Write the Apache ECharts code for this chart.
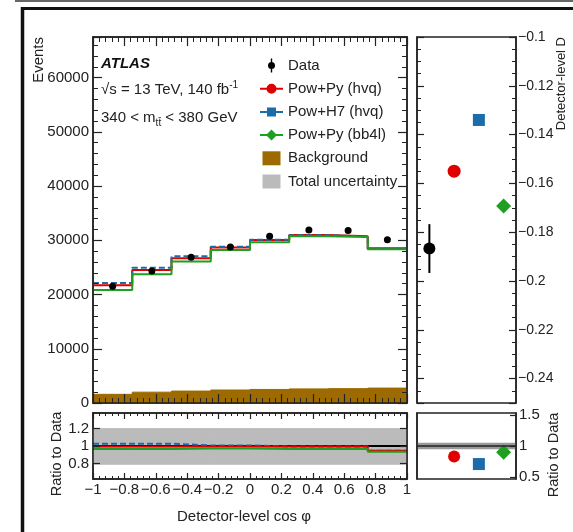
<!DOCTYPE html>
<html>
<head>
<meta charset="utf-8">
<script src="https://cdn.jsdelivr.net/npm/echarts@6/dist/echarts.min.js"></script>
<style>
  html, body { margin: 0; padding: 0; background: #fff; }
  #chart { width: 573px; height: 532px; }
</style>
</head>
<body>
<div id="chart"></div>
<script>
// binning in detector-level cos phi
const binEdges = [-1, -0.75, -0.5, -0.25, 0, 0.25, 0.5, 0.75, 1]
const binCenters = [-0.875, -0.625, -0.375, -0.125, 0.125, 0.375, 0.625, 0.875]

// events per bin
const dataEvents = [21550, 24350, 26900, 28750, 30750, 31900, 31800, 30100]
const powPyHvq = [21700, 24550, 26700, 28700, 30050, 31000, 30750, 28550]
const powH7Hvq = [22150, 24950, 27050, 28800, 30100, 30950, 30700, 28450]
const powPyBb4l = [20850, 23750, 26100, 28200, 29650, 30750, 30600, 28350]
const background = [1600, 2000, 2200, 2400, 2500, 2600, 2650, 2750]

// ratio to data
const ratioData = [1, 1, 1, 1, 1, 1, 1, 1]
const ratioPowPyHvq = [0.995, 0.995, 0.995, 0.995, 0.993, 0.993, 0.993, 0.945]
const ratioPowH7Hvq = [1.027, 1.027, 1.006, 1.006, 0.994, 0.994, 0.994, 0.945]
const ratioPowPyBb4l = [0.966, 0.966, 0.972, 0.972, 0.966, 0.966, 0.966, 0.935]
const uncLow = [0.79, 0.79, 0.79, 0.79, 0.79, 0.79, 0.79, 0.79]
const uncHigh = [1.2, 1.2, 1.2, 1.2, 1.2, 1.2, 1.2, 1.2]

// detector-level D
const dCategories = ['Data', 'Pow+Py (hvq)', 'Pow+H7 (hvq)', 'Pow+Py (bb4l)']
const dValues = [-0.1867, -0.155, -0.134, -0.1693]
const dDataErr = [-0.1967, -0.1767]
const dRatio = [1, 0.83, 0.71, 0.9]
const dDataUnc = [0.947, 1.053]

const FONT = '"Liberation Sans", Arial, sans-serif'
const INK = '#222'
const RED = '#e00000'
const BLUE = '#1b6ca8'
const GREEN = '#1f9f1f'
const BROWN = '#9c6a00'
const GREY = '#bbbbbb'

const minus = v => (v < 0 ? '\u2212' + String(-v) : String(v))

function stepData(vals) {
  const pts = vals.map((v, i) => [binEdges[i], v])
  pts.push([binEdges[vals.length], vals[vals.length - 1]])
  return pts
}

function binRect(params, api) {
  const p0 = api.coord([api.value(0), api.value(2)])
  const p1 = api.coord([api.value(1), api.value(3)])
  const c = api.visual('color')
  return {
    type: 'rect',
    shape: { x: p0[0], y: p0[1], width: p1[0] - p0[0], height: p1[1] - p0[1] },
    style: { fill: c, stroke: c, lineWidth: 1 }
  }
}

function tickAxis(extra) {
  return Object.assign({
    type: 'value',
    axisLine: { show: true, onZero: false, lineStyle: { color: INK, width: 1.5 } },
    axisTick: { show: true, inside: true, length: 9, lineStyle: { color: INK, width: 1.2 } },
    minorTick: { show: true, splitNumber: 5, length: 5, lineStyle: { color: INK, width: 1 } },
    axisLabel: { show: false },
    splitLine: { show: false },
    z: 10
  }, extra)
}

const labelStyle = { fontSize: 15, fontFamily: FONT, color: INK }
const solid = { opacity: 1 }

const chart = echarts.init(document.getElementById('chart'))

chart.setOption({
  animation: false,
  textStyle: { fontFamily: FONT },
  grid: [
    { left: 93, top: 37, width: 314, height: 366, show: true, borderColor: INK, borderWidth: 1.5 },
    { left: 93, top: 413, width: 314, height: 66, show: true, borderColor: INK, borderWidth: 1.5 },
    { left: 417, top: 37, width: 99, height: 366, show: true, borderColor: INK, borderWidth: 1.5 },
    { left: 417, top: 413, width: 99, height: 66, show: true, borderColor: INK, borderWidth: 1.5 }
  ],
  xAxis: [
    tickAxis({ gridIndex: 0, position: 'bottom', min: -1, max: 1, interval: 0.2 }),
    tickAxis({ gridIndex: 0, position: 'top', min: -1, max: 1, interval: 0.2 }),
    tickAxis({
      gridIndex: 1, position: 'bottom', min: -1, max: 1, interval: 0.2,
      axisTick: { show: true, inside: true, length: 6, lineStyle: { color: INK, width: 1.2 } },
      minorTick: { show: true, splitNumber: 5, length: 3, lineStyle: { color: INK, width: 1 } },
      axisLabel: Object.assign({ show: true, margin: 3, formatter: minus }, labelStyle)
    }),
    tickAxis({
      gridIndex: 1, position: 'top', min: -1, max: 1, interval: 0.2,
      axisTick: { show: true, inside: true, length: 6, lineStyle: { color: INK, width: 1.2 } },
      minorTick: { show: true, splitNumber: 5, length: 3, lineStyle: { color: INK, width: 1 } }
    }),
    { type: 'category', gridIndex: 2, data: dCategories, axisLine: { show: false }, axisTick: { show: false }, axisLabel: { show: false } },
    { type: 'category', gridIndex: 3, data: dCategories, axisLine: { show: false }, axisTick: { show: false }, axisLabel: { show: false } }
  ],
  yAxis: [
    tickAxis({
      gridIndex: 0, position: 'left', min: 0, max: 67500, interval: 10000,
      axisLabel: Object.assign({ show: true, margin: 4, showMaxLabel: false, formatter: v => String(v) }, labelStyle)
    }),
    tickAxis({ gridIndex: 0, position: 'right', min: 0, max: 67500, interval: 10000 }),
    tickAxis({
      gridIndex: 1, position: 'left', min: 0.62, max: 1.38, splitNumber: 5,
      axisTick: { show: true, inside: true, length: 7, lineStyle: { color: INK, width: 1.2 } },
      minorTick: { show: false },
      axisLabel: Object.assign({ show: true, margin: 4, showMinLabel: false, showMaxLabel: false }, labelStyle)
    }),
    tickAxis({
      gridIndex: 1, position: 'right', min: 0.62, max: 1.38, splitNumber: 5,
      axisTick: { show: true, inside: true, length: 7, lineStyle: { color: INK, width: 1.2 } },
      minorTick: { show: false }
    }),
    tickAxis({
      gridIndex: 2, position: 'right', min: -0.25, max: -0.1, splitNumber: 7,
      axisTick: { show: true, inside: true, length: 7, lineStyle: { color: INK, width: 1.2 } },
      minorTick: { show: true, splitNumber: 4, length: 4, lineStyle: { color: INK, width: 1 } },
      axisLabel: { show: true, margin: 2, showMinLabel: false, formatter: minus, fontSize: 14, fontFamily: FONT, color: INK }
    }),
    tickAxis({
      gridIndex: 2, position: 'left', min: -0.25, max: -0.1, splitNumber: 7,
      axisTick: { show: true, inside: true, length: 7, lineStyle: { color: INK, width: 1.2 } },
      minorTick: { show: true, splitNumber: 4, length: 4, lineStyle: { color: INK, width: 1 } }
    }),
    tickAxis({
      gridIndex: 3, position: 'right', min: 0.47, max: 1.53, splitNumber: 2,
      axisTick: { show: true, inside: true, length: 6, lineStyle: { color: INK, width: 1.2 } },
      minorTick: { show: false },
      axisLabel: Object.assign({ show: true, margin: 3, showMinLabel: false, showMaxLabel: false }, labelStyle)
    }),
    tickAxis({
      gridIndex: 3, position: 'left', min: 0.47, max: 1.53, splitNumber: 2,
      axisTick: { show: false }, minorTick: { show: false }
    })
  ],
  legend: {
    orient: 'vertical',
    left: 255,
    top: 53,
    itemWidth: 23,
    itemHeight: 14,
    itemGap: 8.2,
    selectedMode: false,
    itemStyle: { borderWidth: 0 },
    textStyle: { fontSize: 15, fontFamily: FONT, color: INK },
    data: [
      { name: 'Data', icon: 'path://M10.8,0H12.2V14H10.8Z M8,7A3.5,3.5,0,1,1,15,7A3.5,3.5,0,1,1,8,7Z' },
      { name: 'Pow+Py (hvq)', icon: 'path://M0,6H23V8H0Z M6.5,7A5,5,0,1,1,16.5,7A5,5,0,1,1,6.5,7Z' },
      { name: 'Pow+H7 (hvq)', icon: 'path://M0,6H23V8H0Z M7,2.5H16V11.5H7Z' },
      { name: 'Pow+Py (bb4l)', icon: 'path://M0,6H23V8H0Z M11.5,1.5L17,7L11.5,12.5L6,7Z' },
      { name: 'Background', icon: 'path://M0,0H18V14H0Z' },
      { name: 'Total uncertainty', icon: 'path://M0,0H18V14H0Z' }
    ]
  },
  graphic: [
    { type: 'line', silent: true, shape: { x1: 15, y1: 1, x2: 573, y2: 1 }, style: { stroke: '#333', lineWidth: 1.5 } },
    { type: 'line', silent: true, shape: { x1: 21, y1: 8.5, x2: 573, y2: 8.5 }, style: { stroke: '#111', lineWidth: 3 } },
    { type: 'line', silent: true, shape: { x1: 22.5, y1: 7, x2: 22.5, y2: 532 }, style: { stroke: '#111', lineWidth: 3.5 } },
    { type: 'text', x: 101, y: 64, style: { text: 'ATLAS', font: 'italic bold 15px ' + FONT, fill: '#111', verticalAlign: 'middle' } },
    {
      type: 'text', x: 101, y: 90,
      style: {
        text: '{n|\u221As = 13 TeV, 140 fb}{sup|-1}', verticalAlign: 'middle', fill: INK,
        rich: {
          n: { fontSize: 15, fontFamily: FONT, lineHeight: 20, fill: INK },
          sup: { fontSize: 10, fontFamily: FONT, lineHeight: 10, verticalAlign: 'top', fill: INK }
        }
      }
    },
    {
      type: 'text', x: 101, y: 118,
      style: {
        text: '{n|340 < m}{sub|tt\u0304}{n| < 380 GeV}', verticalAlign: 'middle', fill: INK,
        rich: {
          n: { fontSize: 15, fontFamily: FONT, lineHeight: 20, fill: INK },
          sub: { fontSize: 10, fontFamily: FONT, lineHeight: 10, verticalAlign: 'bottom', fill: INK }
        }
      }
    },
    { type: 'text', x: 39, y: 37, rotation: Math.PI / 2, style: { text: 'Events', fontSize: 15, fontFamily: FONT, fill: INK, align: 'right', verticalAlign: 'middle' } },
    { type: 'text', x: 57, y: 454, rotation: Math.PI / 2, style: { text: 'Ratio to Data', fontSize: 14.5, fontFamily: FONT, fill: INK, align: 'center', verticalAlign: 'middle' } },
    { type: 'text', x: 561, y: 37, rotation: Math.PI / 2, style: { text: 'Detector-level D', fontSize: 13, fontFamily: FONT, fill: INK, align: 'right', verticalAlign: 'middle' } },
    { type: 'text', x: 554, y: 455, rotation: Math.PI / 2, style: { text: 'Ratio to Data', fontSize: 14.5, fontFamily: FONT, fill: INK, align: 'center', verticalAlign: 'middle' } },
    { type: 'text', x: 244, y: 517, style: { text: 'Detector-level cos \u03C6', fontSize: 15, fontFamily: FONT, fill: INK, align: 'center', verticalAlign: 'middle' } }
  ],
  series: [
    // main panel
    {
      name: 'Background', type: 'custom', xAxisIndex: 0, yAxisIndex: 0,
      itemStyle: { color: BROWN, opacity: 1 },
      renderItem: binRect,
      data: background.map((v, i) => [binEdges[i], binEdges[i + 1], v, 0])
    },
    {
      name: 'Pow+Py (hvq)', type: 'line', xAxisIndex: 0, yAxisIndex: 0, step: 'end',
      color: RED, showSymbol: false, symbol: 'none', lineStyle: { color: RED, width: 2 },
      data: stepData(powPyHvq)
    },
    {
      name: 'Pow+H7 (hvq)', type: 'line', xAxisIndex: 0, yAxisIndex: 0, step: 'end',
      color: BLUE, showSymbol: false, symbol: 'none', lineStyle: { color: BLUE, width: 2, type: [6, 3] },
      data: stepData(powH7Hvq)
    },
    {
      name: 'Pow+Py (bb4l)', type: 'line', xAxisIndex: 0, yAxisIndex: 0, step: 'end',
      color: GREEN, showSymbol: false, symbol: 'none', lineStyle: { color: GREEN, width: 2 },
      data: stepData(powPyBb4l)
    },
    {
      name: 'Data', type: 'scatter', xAxisIndex: 0, yAxisIndex: 0,
      symbol: 'circle', symbolSize: 7, itemStyle: { color: '#000', opacity: 1 }, z: 5,
      data: binCenters.map((x, i) => [x, dataEvents[i]])
    },
    // ratio panel
    {
      name: 'Total uncertainty', type: 'custom', xAxisIndex: 2, yAxisIndex: 2,
      itemStyle: { color: GREY, opacity: 1 },
      renderItem: binRect,
      data: uncLow.map((lo, i) => [binEdges[i], binEdges[i + 1], uncHigh[i], lo])
    },
    {
      name: 'Data', type: 'line', xAxisIndex: 2, yAxisIndex: 2, step: 'end',
      color: '#000', symbol: 'none', lineStyle: { color: '#000', width: 2 },
      data: stepData(ratioData)
    },
    {
      name: 'Pow+H7 (hvq)', type: 'line', xAxisIndex: 2, yAxisIndex: 2, step: 'end',
      color: BLUE, symbol: 'none', lineStyle: { color: BLUE, width: 2, type: [6, 3] },
      data: stepData(ratioPowH7Hvq)
    },
    {
      name: 'Pow+Py (hvq)', type: 'line', xAxisIndex: 2, yAxisIndex: 2, step: 'end',
      color: RED, symbol: 'none', lineStyle: { color: RED, width: 2 },
      data: stepData(ratioPowPyHvq)
    },
    {
      name: 'Pow+Py (bb4l)', type: 'line', xAxisIndex: 2, yAxisIndex: 2, step: 'end',
      color: GREEN, symbol: 'none', lineStyle: { color: GREEN, width: 2 },
      data: stepData(ratioPowPyBb4l)
    },
    // detector-level D panel
    {
      name: 'Data', type: 'custom', xAxisIndex: 4, yAxisIndex: 4,
      itemStyle: { color: '#000' },
      renderItem: function (params, api) {
        const lo = api.coord([api.value(0), api.value(1)])
        const hi = api.coord([api.value(0), api.value(2)])
        return { type: 'line', shape: { x1: lo[0], y1: lo[1], x2: hi[0], y2: hi[1] }, style: { stroke: '#000', lineWidth: 2 } }
      },
      data: [[0, dDataErr[0], dDataErr[1]]]
    },
    {
      name: 'Data', type: 'scatter', xAxisIndex: 4, yAxisIndex: 4, symbol: 'circle', symbolSize: 12,
      itemStyle: { color: '#000', opacity: 1 }, data: [[0, dValues[0]]]
    },
    {
      name: 'Pow+Py (hvq)', type: 'scatter', xAxisIndex: 4, yAxisIndex: 4, symbol: 'circle', symbolSize: 13,
      itemStyle: { color: RED, opacity: 1 }, data: [[1, dValues[1]]]
    },
    {
      name: 'Pow+H7 (hvq)', type: 'scatter', xAxisIndex: 4, yAxisIndex: 4, symbol: 'rect', symbolSize: 12,
      itemStyle: { color: BLUE, opacity: 1 }, data: [[2, dValues[2]]]
    },
    {
      name: 'Pow+Py (bb4l)', type: 'scatter', xAxisIndex: 4, yAxisIndex: 4, symbol: 'diamond', symbolSize: 15,
      itemStyle: { color: GREEN, opacity: 1 }, data: [[3, dValues[3]]]
    },
    // ratio of D
    {
      name: 'Data', type: 'scatter', xAxisIndex: 5, yAxisIndex: 6, symbolSize: 0,
      data: [[0, dRatio[0]]],
      markArea: { silent: true, itemStyle: { color: '#999999', opacity: 1 }, data: [[{ yAxis: dDataUnc[0] }, { yAxis: dDataUnc[1] }]] },
      markLine: { silent: true, symbol: 'none', label: { show: false }, lineStyle: { color: '#222', width: 1.5, type: 'solid' }, data: [{ yAxis: dRatio[0] }] }
    },
    {
      name: 'Pow+Py (hvq)', type: 'scatter', xAxisIndex: 5, yAxisIndex: 6, symbol: 'circle', symbolSize: 12,
      itemStyle: { color: RED, opacity: 1 }, data: [[1, dRatio[1]]]
    },
    {
      name: 'Pow+H7 (hvq)', type: 'scatter', xAxisIndex: 5, yAxisIndex: 6, symbol: 'rect', symbolSize: 12,
      itemStyle: { color: BLUE, opacity: 1 }, data: [[2, dRatio[2]]]
    },
    {
      name: 'Pow+Py (bb4l)', type: 'scatter', xAxisIndex: 5, yAxisIndex: 6, symbol: 'diamond', symbolSize: 15,
      itemStyle: { color: GREEN, opacity: 1 }, data: [[3, dRatio[3]]]
    }
  ]
})
</script>
</body>
</html>
